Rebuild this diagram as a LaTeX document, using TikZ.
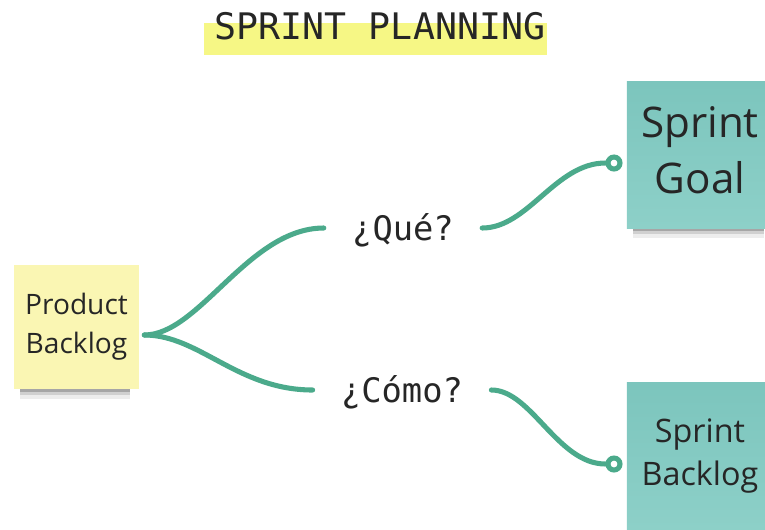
\documentclass[tikz,border=0pt]{standalone}
\usepackage{fontspec}
\setmainfont{Open Sans}
\newfontfamily\monofont{DejaVu Sans Mono}
\usepackage{xcolor}
\usetikzlibrary{positioning, calc, backgrounds}

\definecolor{stickyyellow}{HTML}{FAF6B3}
\definecolor{tealtop}{HTML}{7CC5BD}
\definecolor{tealbottom}{HTML}{8DD0C8}
\definecolor{linkgreen}{HTML}{4BAA8B}
\definecolor{marker}{HTML}{F6F785}
\definecolor{ink}{HTML}{262626}

\tikzset{
  sticky/.style={align=center, text=ink, inner sep=0pt},
  tealsticky/.style={sticky, top color=tealtop, bottom color=tealbottom, minimum size=3.65cm},
  ask/.style={font=\monofont\fontsize{24}{28}\selectfont, text=ink, inner xsep=20pt,
    text height=17.5pt, text depth=0pt},
  link/.style={linkgreen, line width=3.6pt, line cap=round},
  knob/.style={circle, draw=linkgreen, fill=white, line width=3.6pt, inner sep=0pt, minimum size=8.5pt}
}

\begin{document}
\begin{tikzpicture}[x=0.025cm, y=-0.025cm]
  \useasboundingbox (0,0) rectangle (765,529);

  % title with marker stroke
  \fill[marker] (204,23) rectangle (547,55);
  \node[font=\monofont\fontsize{26}{30}\selectfont, text=ink] (title) at (380,26.5) {SPRINT PLANNING};

  % sticky notes
  \node[sticky, fill=stickyyellow, minimum width=3.125cm, minimum height=3.075cm,
    font=\fontsize{20}{27.5}\selectfont] (pb) at (76.5,327) {Product\\Backlog};
  \node[tealsticky, font=\fontsize{30}{40}\selectfont, text depth=7pt] (goal) at (700,155) {Sprint\\Goal};
  \node[tealsticky, font=\fontsize{23}{31}\selectfont] (sbl) at (700,456) {Sprint\\Backlog};

  % soft shadows under the notes
  \begin{scope}[on background layer]
    \foreach \n in {pb, goal, sbl}
      \foreach \d/\o in {3/.2, 6/.12, 10/.07}
        \fill[black, opacity=\o] ($(\n.south west)+(6,-10)$) rectangle ($(\n.south east)+(-9,\d)$);
  \end{scope}

  % questions
  \node[ask] (que) at (403,228) {¿Qué?};
  \node[ask] (como) at (402,390) {¿Cómo?};

  % end knobs
  \node[knob] (goaldot) at (614,163) {};
  \node[knob] (bldot) at (614,464) {};

  \coordinate (fork) at ($(pb.east)+(5,8)$);

  \draw[link] (fork) .. controls +(55,0) and +(-75,0) .. (que.west);
  \draw[link] (fork) .. controls +(55,0) and +(-75,0) .. (como.west);
  \draw[link] (que.east) .. controls +(46,0) and +(-50,0) .. (goaldot.west);
  \draw[link] (como.east) .. controls +(40,0) and +(-48,0) .. (bldot.west);
\end{tikzpicture}
\end{document}
